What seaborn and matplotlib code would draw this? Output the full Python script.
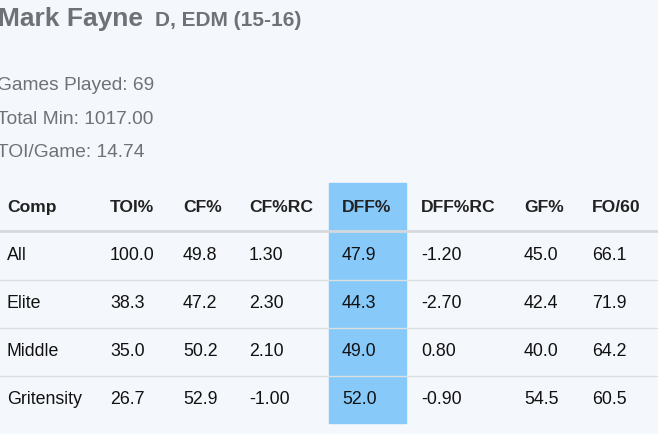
import matplotlib.pyplot as plt
import seaborn as sns

sns.set_theme(style='white')
plt.rcParams['font.family'] = ['Liberation Sans', 'DejaVu Sans']

player = 'Mark Fayne'
info = 'D, EDM (15-16)'
summary = ['Games Played: 69', 'Total Min: 1017.00', 'TOI/Game: 14.74']

columns = ['Comp', 'TOI%', 'CF%', 'CF%RC', 'DFF%', 'DFF%RC', 'GF%', 'FO/60']
comps = ['All', 'Elite', 'Middle', 'Gritensity']
toi = ['100.0', '38.3', '35.0', '26.7']
cf = ['49.8', '47.2', '50.2', '52.9']
cfrc = ['1.30', '2.30', '2.10', '-1.00']
dff = ['47.9', '44.3', '49.0', '52.0']
dffrc = ['-1.20', '-2.70', '0.80', '-0.90']
gf = ['45.0', '42.4', '40.0', '54.5']
fo60 = ['66.1', '71.9', '64.2', '60.5']
rows = list(zip(comps, toi, cf, cfrc, dff, dffrc, gf, fo60))

W, H = 658, 435
fig = plt.figure(figsize=(W / 100, H / 100), dpi=100)
fig.patch.set_facecolor('#f4f7fb')
ax = fig.add_axes([0, 0, 1, 1])
ax.set_xlim(0, W)
ax.set_ylim(H, 0)
ax.axis('off')

grey = '#6e7276'
ax.text(-2, 19, player, fontsize=19, fontweight='bold', color=grey, va='center')
ax.text(155, 20, info, fontsize=15, fontweight='bold', color=grey, va='center')
for i, s in enumerate(summary):
    ax.text(-3, 85 + i * 34, s, fontsize=13.8, color=grey, va='center')

col_x = [7, 110, 183, 249, 342, 421, 524, 592]
ax.fill_between([329, 406], 184, 424, color='#87caf9', zorder=0)
header_y = 208
for x, c in zip(col_x, columns):
    ax.text(x, header_y, c, fontsize=12.6, fontweight='bold', color='#222222', va='center')
ax.plot([0, W], [232, 232], color='#d5d8dc', lw=2)
for r, row in enumerate(rows):
    y = 256 + r * 48
    for x, v in zip(col_x, row):
        ax.text(x, y, v, fontsize=12.8, color='#111111', va='center')
    if r < len(rows) - 1:
        ax.plot([0, W], [y + 25, y + 25], color='#dde0e3', lw=1)

fig.savefig('out.png', dpi=100, facecolor=fig.get_facecolor())
